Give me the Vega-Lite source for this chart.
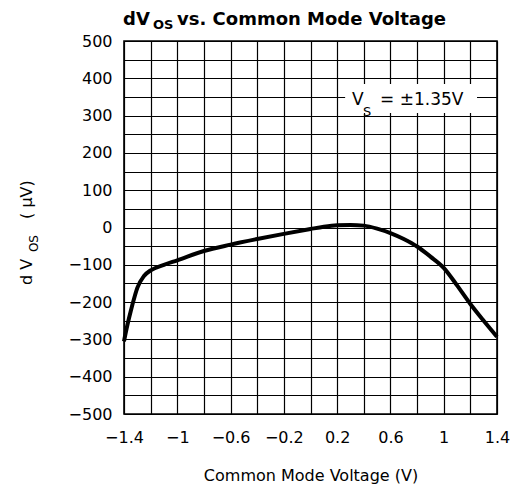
{
  "$schema": "https://vega.github.io/schema/vega-lite/v6.json",
  "width": 373,
  "height": 373,
  "autosize": "none",
  "padding": {"left": 124, "top": 41, "right": 19, "bottom": 81},
  "background": "white",
  "config": {
    "view": {"stroke": "black", "strokeWidth": 1.6},
    "font": "DejaVu Sans"
  },
  "datasets": {
    "curve": [
      {"x": -1.4, "y": -305}, {"x": -1.38, "y": -270}, {"x": -1.35, "y": -225},
      {"x": -1.32, "y": -185}, {"x": -1.3, "y": -162}, {"x": -1.25, "y": -130},
      {"x": -1.2, "y": -115}, {"x": -1.1, "y": -100}, {"x": -1.0, "y": -88},
      {"x": -0.8, "y": -63}, {"x": -0.6, "y": -46}, {"x": -0.4, "y": -31},
      {"x": -0.2, "y": -17}, {"x": 0.0, "y": -4}, {"x": 0.1, "y": 2},
      {"x": 0.2, "y": 6}, {"x": 0.3, "y": 7}, {"x": 0.4, "y": 5},
      {"x": 0.5, "y": -3}, {"x": 0.6, "y": -15}, {"x": 0.7, "y": -31},
      {"x": 0.8, "y": -51}, {"x": 0.9, "y": -78}, {"x": 1.0, "y": -108},
      {"x": 1.1, "y": -155}, {"x": 1.2, "y": -205}, {"x": 1.3, "y": -250},
      {"x": 1.4, "y": -293}
    ],
    "box": [{"x": 0.26, "x2": 1.25, "y": 307, "y2": 385}],
    "notes": [
      {"x": -1.4075, "y": 543, "text": "dV", "g": "title"},
      {"x": -1.1823, "y": 532, "text": "OS", "g": "titlesub"},
      {"x": -1.0021, "y": 543, "text": "vs. Common Mode Voltage", "g": "title"},
      {"x": -2.0906, "y": -154, "text": "d V", "g": "ytitle"},
      {"x": -2.0456, "y": -66, "text": "OS", "g": "ytitlesub"},
      {"x": -2.0906, "y": 23, "text": "( µV)", "g": "ytitle"},
      {"x": 0.312, "y": 328, "text": "V", "g": "note"},
      {"x": 0.394, "y": 300, "text": "S", "g": "notesub"},
      {"x": 0.522, "y": 328, "text": "= ±1.35V", "g": "note"}
    ]
  },
  "encoding": {
    "x": {
      "field": "x", "type": "quantitative",
      "scale": {"domain": [-1.4, 1.4], "nice": false, "zero": false},
      "axis": {
        "title": "Common Mode Voltage (V)",
        "values": [-1.4, -1.2, -1, -0.8, -0.6, -0.4, -0.2, 0, 0.2, 0.4, 0.6, 0.8, 1, 1.2, 1.4],
        "format": "~g",
        "labelExpr": "indexof([-1.4, -1, -0.6, -0.2, 0.2, 0.6, 1, 1.4], datum.value) >= 0 ? datum.label : ''",
        "grid": true, "gridColor": "black", "gridOpacity": 1, "gridWidth": 1.2,
        "ticks": false, "tickSize": 0,
        "domain": false,
        "labelFont": "DejaVu Sans", "labelFontSize": 16, "labelColor": "black",
        "labelPadding": 15, "labelFlush": false, "labelOverlap": false,
        "titleFont": "DejaVu Sans", "titleFontSize": 16, "titleFontWeight": "normal",
        "titleColor": "black", "titlePadding": 22
      }
    },
    "y": {
      "field": "y", "type": "quantitative",
      "scale": {"domain": [-500, 500], "nice": false},
      "axis": {
        "title": null,
        "values": [-500, -450, -400, -350, -300, -250, -200, -150, -100, -50, 0, 50, 100, 150, 200, 250, 300, 350, 400, 450, 500],
        "labelExpr": "datum.value % 100 == 0 ? datum.label : ''",
        "grid": true, "gridColor": "black", "gridOpacity": 1, "gridWidth": 1.2,
        "ticks": false, "tickSize": 0,
        "domain": false,
        "labelFont": "DejaVu Sans", "labelFontSize": 16, "labelColor": "black",
        "labelPadding": 12, "labelFlush": false, "labelOverlap": false
      }
    }
  },
  "layer": [
    {
      "data": {"name": "box"},
      "mark": {"type": "rect", "fill": "white", "stroke": null},
      "encoding": {
        "x2": {"field": "x2"},
        "y2": {"field": "y2"}
      }
    },
    {
      "data": {"name": "curve"},
      "mark": {"type": "line", "color": "black", "strokeWidth": 4, "interpolate": "monotone"}
    },
    {
      "data": {"name": "notes"},
      "transform": [{"filter": "datum.g == 'title'"}],
      "mark": {"type": "text", "font": "DejaVu Sans", "fontWeight": "bold", "fontSize": 18, "align": "left", "baseline": "alphabetic", "color": "black"},
      "encoding": {"text": {"field": "text"}}
    },
    {
      "data": {"name": "notes"},
      "transform": [{"filter": "datum.g == 'titlesub'"}],
      "mark": {"type": "text", "font": "DejaVu Sans", "fontWeight": "bold", "fontSize": 13, "align": "left", "baseline": "alphabetic", "color": "black"},
      "encoding": {"text": {"field": "text"}}
    },
    {
      "data": {"name": "notes"},
      "transform": [{"filter": "datum.g == 'ytitle'"}],
      "mark": {"type": "text", "font": "DejaVu Sans", "fontSize": 16, "angle": 270, "align": "left", "baseline": "alphabetic", "color": "black"},
      "encoding": {"text": {"field": "text"}}
    },
    {
      "data": {"name": "notes"},
      "transform": [{"filter": "datum.g == 'ytitlesub'"}],
      "mark": {"type": "text", "font": "DejaVu Sans", "fontSize": 12, "angle": 270, "align": "left", "baseline": "alphabetic", "color": "black"},
      "encoding": {"text": {"field": "text"}}
    },
    {
      "data": {"name": "notes"},
      "transform": [{"filter": "datum.g == 'note'"}],
      "mark": {"type": "text", "font": "DejaVu Sans", "fontSize": 17, "align": "left", "baseline": "alphabetic", "color": "black"},
      "encoding": {"text": {"field": "text"}}
    },
    {
      "data": {"name": "notes"},
      "transform": [{"filter": "datum.g == 'notesub'"}],
      "mark": {"type": "text", "font": "DejaVu Sans", "fontSize": 13, "align": "left", "baseline": "alphabetic", "color": "black"},
      "encoding": {"text": {"field": "text"}}
    }
  ]
}
